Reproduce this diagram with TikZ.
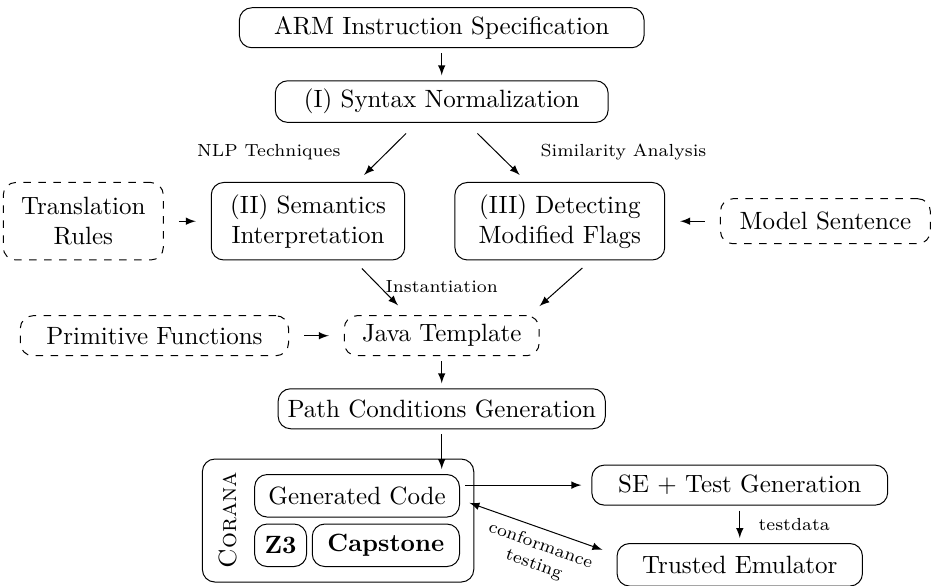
\documentclass[tikz,border=0pt]{standalone}
\usetikzlibrary{positioning,fit}
\tikzset{node distance=0.45cm,
  blk/.style={draw, rounded corners=5pt, minimum height=16pt, align=center},
  dblk/.style={blk, dashed},
  lbl/.style={font=\scriptsize},
  arr/.style={-latex, shorten >=2pt, shorten <=2pt}}

\begin{document}
\begin{tikzpicture}
\useasboundingbox (0,0) rectangle (13.145,-8.238);
% main column
\node[blk, minimum width=5.69cm] (arm) at (6.21,-0.39) {ARM Instruction Specification};
\node[blk, minimum width=4.68cm, below=0.45cm of arm] (syn) {(I) Syntax Normalization};
\node[blk, minimum width=2.72cm, minimum height=31pt] (sem) at (4.33,-3.11) {(II) Semantics\\Interpretation};
\node[blk, minimum width=2.95cm, minimum height=31pt] (det) at (7.87,-3.11) {(III) Detecting\\Modified Flags};
\node[dblk, minimum width=2.25cm, minimum height=31pt, left=0.66cm of sem] (trans) {Translation\\Rules};
\node[dblk, minimum width=2.95cm, minimum height=18pt, right=0.77cm of det] (model) {Model Sentence};
\node[dblk, minimum width=2.74cm] (java) at (6.21,-4.72) {Java Template};
\node[dblk, minimum width=3.77cm, left=0.77cm of java] (prim) {Primitive Functions};
\node[blk, minimum width=4.6cm, below=0.45cm of java] (path) {Path Conditions Generation};
% Corana
\node[blk, minimum width=2.88cm, minimum height=17pt] (gen) at (5.02,-6.97) {Generated Code};
\node[blk, minimum width=0.73cm, minimum height=17pt, font=\bfseries, anchor=north west] (z3) at ([yshift=-2.4pt]gen.south west) {Z3};
\node[blk, minimum width=2.07cm, minimum height=17pt, font=\bfseries, anchor=north east] (cap) at ([yshift=-2.4pt]gen.south east) {Capstone};
\node[rotate=90, inner sep=1pt] (corlbl) at (3.205,-7.31) {\textsc{Corana}};
\coordinate (corw) at ([xshift=-15.2pt]gen.west);
\node[draw, rounded corners=5pt, fit=(corw)(gen)(z3)(cap), inner xsep=5.5pt, inner ysep=6pt] (corana) {};
\node[blk, minimum width=4.16cm] (se) at (10.40,-6.82) {SE + Test Generation};
\node[blk, minimum width=3.45cm, minimum height=17pt] (emu) at (10.40,-7.94) {Trusted Emulator};
% connectors
\draw[arr] (arm) -- (syn);
\draw[arr, shorten <=6pt, shorten >=4pt] ([xshift=-10pt]syn.south) -- node[lbl, left=15pt] {NLP Techniques} ([xshift=19.6pt]sem.north);
\draw[arr, shorten <=6pt, shorten >=4pt] ([xshift=10pt]syn.south) -- node[lbl, right=14pt] {Similarity Analysis} ([xshift=-13.2pt]det.north);
\draw[arr, shorten <=6pt, shorten >=6pt] (trans) -- (sem);
\draw[arr, shorten <=6pt, shorten >=6pt] (model) -- (det);
\draw[arr, shorten <=4.5pt, shorten >=5.5pt] ([xshift=18.4pt]sem.south) -- ([xshift=-13.6pt]java.north);
\draw[arr, shorten <=4.5pt, shorten >=5.5pt] ([xshift=12.4pt]det.south) -- ([xshift=35pt]java.north);
\node[lbl] (inst) at (6.21,-4.03) {Instantiation};
\draw[arr, shorten <=6pt, shorten >=6pt] (prim) -- (java);
\draw[arr] (java) -- (path);
\draw[arr] (path.south) -- (path.south |- gen.north);
\draw[arr, shorten >=4pt] (gen.east |- se) -- (se);
\draw[arr] (se) -- node[lbl, right=4pt] {testdata} (emu);
\draw[latex-latex, shorten <=4pt, shorten >=6pt] ([yshift=-1.5pt]gen.east) -- node[lbl, sloped, below, align=center, pos=0.55] {conformance\\testing} ([yshift=4pt]emu.west);
\end{tikzpicture}
\end{document}
